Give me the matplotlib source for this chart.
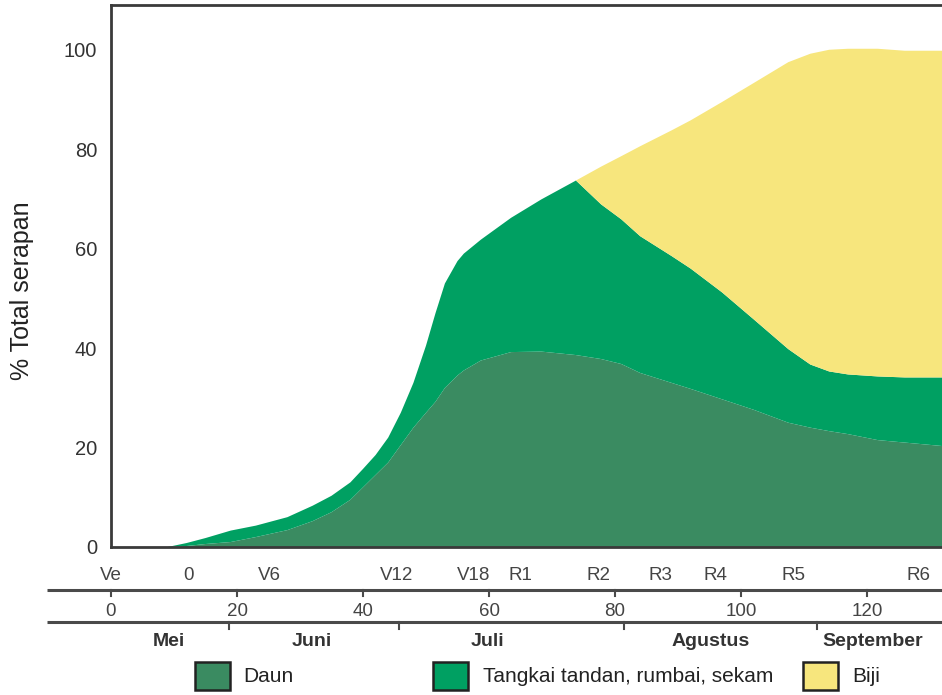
import numpy as np
import matplotlib
matplotlib.use("Agg")
import matplotlib.pyplot as plt
from matplotlib.patches import Rectangle
from matplotlib.transforms import blended_transform_factory

plt.rcParams['font.family'] = ['Liberation Sans', 'DejaVu Sans']

# hari setelah tanam
hari = [0, 9, 12, 15, 19, 23, 28, 32, 35, 38, 40, 42, 44, 46, 48, 50, 51.5, 53,
        55, 56, 58.7, 63.5, 68.3, 73.8, 77.8, 81, 84, 89, 92, 97, 102, 107.5,
        111, 114, 117, 121.7, 126, 132]

# % total serapan per bagian tanaman
daun = [0, 0, 0.2, 0.6, 1.0, 2.0, 3.4, 5.2, 7.0, 9.5, 12.0, 14.5, 17.0, 20.5,
        24.0, 27.0, 29.2, 32.0, 34.5, 35.5, 37.5, 39.2, 39.3, 38.6, 37.8, 36.8,
        35.0, 33.0, 31.8, 29.7, 27.6, 25.0, 24.0, 23.3, 22.7, 21.5, 21.0, 20.3]
tangkai = [0, 0, 0.6, 1.2, 2.3, 2.3, 2.6, 3.1, 3.3, 3.5, 3.7, 4.0, 5.0, 6.5,
           9.0, 13.5, 17.8, 21.0, 23.0, 23.5, 24.3, 27.0, 30.6, 35.1, 31.1,
           29.1, 27.5, 25.5, 24.2, 21.5, 18.2, 14.8, 12.7, 12.0, 12.0, 12.8,
           13.1, 13.8]
biji = [0, 0, 0, 0, 0, 0, 0, 0, 0, 0, 0, 0, 0, 0, 0, 0, 0, 0, 0, 0, 0, 0, 0, 0,
        7.6, 12.7, 18.1, 25.3, 29.8, 38.3, 47.5, 57.7, 62.5, 64.7, 65.5, 65.9,
        65.7, 65.7]

# tahap pertumbuhan
tahap = ['Ve', '0', 'V6', 'V12', 'V18', 'R1', 'R2', 'R3', 'R4', 'R5', 'R6']
tahap_hari = [0, 12.3, 25.2, 45.3, 57.5, 65, 77.4, 87.2, 95.9, 108.3, 128.1]

hari_ticks = [0, 20, 40, 60, 80, 100, 120]

bulan = ['Mei', 'Juni', 'Juli', 'Agustus', 'September']
bulan_hari = [9.2, 31.8, 59.8, 95.1, 120.9]
batas_bulan = [18.8, 45.7, 81.5, 112.1]

legend_labels = ['Daun', 'Tangkai tandan, rumbai, sekam', 'Biji']
warna = ['#3a8b61', '#00a062', '#f7e67d']

W, H = 942, 695
fig = plt.figure(figsize=(W / 100, H / 100), dpi=100)
ax = fig.add_axes([111 / W, 1 - 547 / H, 1 - 111 / W, (547 - 5) / H])

ax.stackplot(hari, daun, tangkai, biji, colors=warna, linewidth=0)
ax.set_xlim(0, 131.9)
ax.set_ylim(0, 109)
ax.set_yticks([0, 20, 40, 60, 80, 100])
ax.set_xticks([])
ax.tick_params(axis='y', length=0, pad=10, labelsize=14.5, labelcolor='#333333')
for s in ['left', 'bottom', 'top']:
    ax.spines[s].set_color('#3a3a3a')
    ax.spines[s].set_linewidth(2)
ax.spines['right'].set_visible(False)
ax.set_ylabel('% Total serapan', fontsize=18, color='#222222')
ax.yaxis.set_label_coords(-(111 - 22) / (W - 111), 1 - ((291 - 5) / (547 - 5)) - 0.0)
ax.yaxis.label.set_va('center')

# sumbu bawah: tahap, hari, bulan
tr = blended_transform_factory(ax.transData, fig.transFigure)
x_left = (45 - 109) / 6.317
x_right = 131.9

def fy(py):
    return 1 - py / H

for lab, d in zip(tahap, tahap_hari):
    ax.text(d, fy(576), lab, transform=tr, ha='center', va='center',
            fontsize=13.5, color='#444444')

line_kw = dict(transform=tr, clip_on=False, color='#4a4a4a', lw=2.2,
               solid_capstyle='butt')
ax.plot([x_left, x_right], [fy(590), fy(590)], **line_kw)
for d in hari_ticks:
    ax.plot([d, d], [fy(590), fy(596)], transform=tr, clip_on=False,
            color='#4a4a4a', lw=1.5)
    ax.text(d, fy(611), str(d), transform=tr, ha='center', va='center',
            fontsize=13.5, color='#444444')

ax.plot([x_left, x_right], [fy(622), fy(622)], **line_kw)
for d in batas_bulan:
    ax.plot([d, d], [fy(622), fy(629)], transform=tr, clip_on=False,
            color='#4a4a4a', lw=1.5)
for lab, d in zip(bulan, bulan_hari):
    ax.text(d, fy(642), lab, transform=tr, ha='center', va='center',
            fontsize=14, fontweight='bold', color='#333333')

# legenda
patch_x = [195, 433, 803]
text_x = [243, 483, 852]
for px, tx, lab, c in zip(patch_x, text_x, legend_labels, warna):
    fig.add_artist(Rectangle((px / W, fy(690)), 35 / W, 28 / H,
                             transform=fig.transFigure, facecolor=c,
                             edgecolor='#222222', lw=1.8))
    fig.text(tx / W, fy(677), lab, ha='left', va='center', fontsize=15,
             color='#222222')

fig.savefig('out.png', dpi=100)
